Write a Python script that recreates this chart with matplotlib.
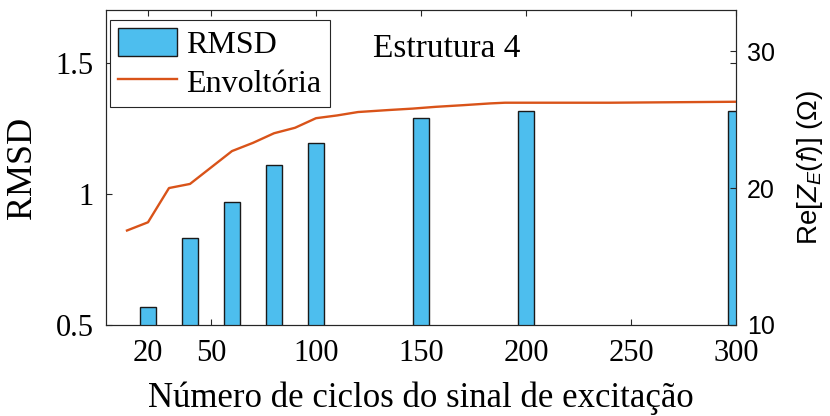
import matplotlib
matplotlib.use("Agg")
import matplotlib.pyplot as plt

plt.rcParams["font.family"] = "Liberation Serif"
plt.rcParams["mathtext.fontset"] = "custom"
plt.rcParams["mathtext.rm"] = "Liberation Sans"
plt.rcParams["mathtext.it"] = "Liberation Sans:italic"

# RMSD per number of excitation cycles (left axis)
cycles = [20, 40, 60, 80, 100, 150, 200, 300]
rmsd = [0.57, 0.83, 0.97, 1.11, 1.195, 1.29, 1.317, 1.317]

# envelope of Re[Z_E(f)] (right axis)
env_x = [10, 20, 30, 40, 50, 60, 70, 80, 90, 100, 110, 120, 135, 146,
         157, 170, 183, 190, 240, 300]
env_y = [16.9, 17.5, 20.0, 20.3, 21.5, 22.7, 23.3, 24.0, 24.4, 25.1, 25.3,
         25.55, 25.7, 25.8, 25.93, 26.05, 26.18, 26.23, 26.23, 26.3]

xticks = [20, 50, 100, 150, 200, 250, 300]

BAR_COLOR = "#4DBEEE"
LINE_COLOR = "#D95319"
AX_COLOR = "#262626"

fig = plt.figure(figsize=(8.3, 4.16), dpi=100)
ax = fig.add_axes([106 / 830, 1 - 325 / 416, 630 / 830, 315 / 416])
ax2 = ax.twinx()

bars = ax.bar(cycles, rmsd, width=8, color=BAR_COLOR, edgecolor="#1a1a1a",
              linewidth=1.0, label="RMSD")
ax.set_xlim(0, 300)
ax.set_ylim(0.5, 1.7)
ax.set_xticks(xticks)
ax.set_xticklabels([str(t) for t in xticks])
ax.set_yticks([0.5, 1, 1.5])
ax.set_yticklabels(["0.5", "1", "1.5"])
ax.set_axisbelow(True)
ax.tick_params(direction="in", length=4, width=0.8, color=AX_COLOR,
               top=True, right=True, labelsize=22, pad=9)
ax.tick_params(axis="x", pad=10)
ax.set_xlabel("Número de ciclos do sinal de excitação", fontsize=25,
              labelpad=10)
ax.set_ylabel("RMSD", fontsize=26, labelpad=12)

line, = ax2.plot(env_x, env_y, color=LINE_COLOR, linewidth=1.7,
                 label="Envoltória")
ax2.set_ylim(10, 33)
ax2.set_yticks([10, 20, 30])
ax2.tick_params(direction="in", length=4, width=0.8, color=AX_COLOR,
                labelsize=18, pad=8)
for lbl in ax2.get_yticklabels():
    lbl.set_fontfamily("Liberation Sans")
ax2.set_ylabel(r"Re[$Z_E(f)$] ($\Omega$)", fontsize=20,
               fontfamily="Liberation Sans", labelpad=14)

for a in (ax, ax2):
    for sp in a.spines.values():
        sp.set_color(AX_COLOR)
        sp.set_linewidth(0.8)

leg = ax2.legend([bars, line], ["RMSD", "Envoltória"], loc="upper left",
                 bbox_to_anchor=(0.006, 0.968), borderaxespad=0,
                 fontsize=23, fancybox=False, edgecolor=AX_COLOR,
                 framealpha=1, handlelength=1.85, handleheight=0.95,
                 handletextpad=0.3, labelspacing=0.22, borderpad=0.25)
leg.get_frame().set_linewidth(0.8)

ax2.text(0.424, 0.851, "Estrutura 4", transform=ax2.transAxes,
         fontsize=24, va="baseline", ha="left")

fig.savefig("out.png", dpi=100)
